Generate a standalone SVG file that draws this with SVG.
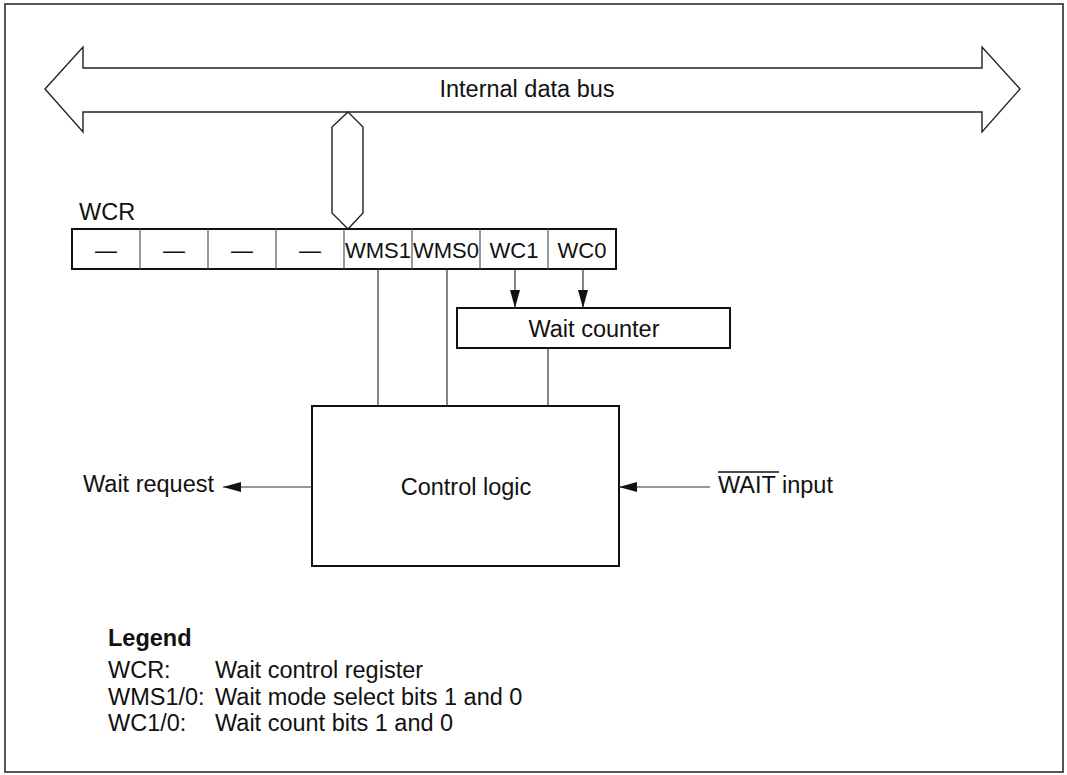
<svg xmlns="http://www.w3.org/2000/svg" width="1067" height="775" viewBox="0 0 1067 775">
<style>
text{font-family:"Liberation Sans",Arial,sans-serif;font-size:23.5px;fill:#111}
.reg{font-size:22px;text-anchor:middle}
.mid{text-anchor:middle}
.box{fill:#fff;stroke:#111;stroke-width:2}
.ln{fill:none;stroke:#333;stroke-width:1.2}
.cell{stroke:#555;stroke-width:1.2}
.bus{fill:#fff;stroke:#222;stroke-width:1.4}
</style>
<defs>
<marker id="ah" viewBox="0 0 18 10" refX="18" refY="5" markerWidth="18" markerHeight="10" markerUnits="userSpaceOnUse" orient="auto">
<path d="M0,0 L18,5 L0,10 Z" fill="#111"/>
</marker>
</defs>
<rect x="5" y="4" width="1058" height="768" fill="#fff" stroke="#555" stroke-width="2"/>
<g id="bus">
<polygon class="bus" points="45,89 83,47 83,68 982,68 982,47 1020,89 982,132 982,112 83,112 83,132"/>
<text class="mid" x="527" y="97">Internal data bus</text>
</g>
<g id="bus-link">
<polygon class="bus" points="348,112 363,127 363,213 348,229 332,213 332,127"/>
</g>
<g id="wcr">
<text x="79" y="220">WCR</text>
<rect class="box" x="72" y="229" width="544" height="40"/>
<line class="cell" x1="140" y1="229" x2="140" y2="269"/>
<line class="cell" x1="208" y1="229" x2="208" y2="269"/>
<line class="cell" x1="276" y1="229" x2="276" y2="269"/>
<line class="cell" x1="344" y1="229" x2="344" y2="269"/>
<line class="cell" x1="412" y1="229" x2="412" y2="269"/>
<line class="cell" x1="480" y1="229" x2="480" y2="269"/>
<line class="cell" x1="548" y1="229" x2="548" y2="269"/>
<text class="reg" x="106" y="258">—</text>
<text class="reg" x="174" y="258">—</text>
<text class="reg" x="242" y="258">—</text>
<text class="reg" x="310" y="258">—</text>
<text class="reg" x="378" y="258">WMS1</text>
<text class="reg" x="446" y="258">WMS0</text>
<text class="reg" x="514" y="258">WC1</text>
<text class="reg" x="582" y="258">WC0</text>
</g>
<g id="wait-counter">
<rect class="box" x="457" y="308" width="273" height="40"/>
<text class="mid" x="594" y="337">Wait counter</text>
</g>
<g id="control-logic">
<rect class="box" x="312" y="406" width="307" height="160"/>
<text class="mid" x="466" y="495">Control logic</text>
</g>
<g id="wait-request">
<text x="83" y="492">Wait request</text>
</g>
<g id="wait-input">
<text x="718" y="493">WAIT input</text>
<line x1="718" y1="472" x2="779" y2="472" stroke="#111" stroke-width="1.3"/>
</g>
<g id="connectors">
<line class="ln" x1="378" y1="269" x2="378" y2="406"/>
<line class="ln" x1="447" y1="269" x2="447" y2="406"/>
<line class="ln" x1="548" y1="348" x2="548" y2="406"/>
<line class="ln" x1="515" y1="269" x2="515" y2="308" marker-end="url(#ah)"/>
<line class="ln" x1="583" y1="269" x2="583" y2="308" marker-end="url(#ah)"/>
<line class="ln" x1="312" y1="487" x2="223" y2="487" marker-end="url(#ah)"/>
<line class="ln" x1="710" y1="487" x2="619" y2="487" marker-end="url(#ah)"/>
</g>
<g id="legend">
<text x="108" y="646" font-weight="bold">Legend</text>
<text x="108" y="678">WCR:</text>
<text x="215" y="678">Wait control register</text>
<text x="108" y="705">WMS1/0:</text>
<text x="215" y="705">Wait mode select bits 1 and 0</text>
<text x="108" y="731">WC1/0:</text>
<text x="215" y="731">Wait count bits 1 and 0</text>
</g>
</svg>
